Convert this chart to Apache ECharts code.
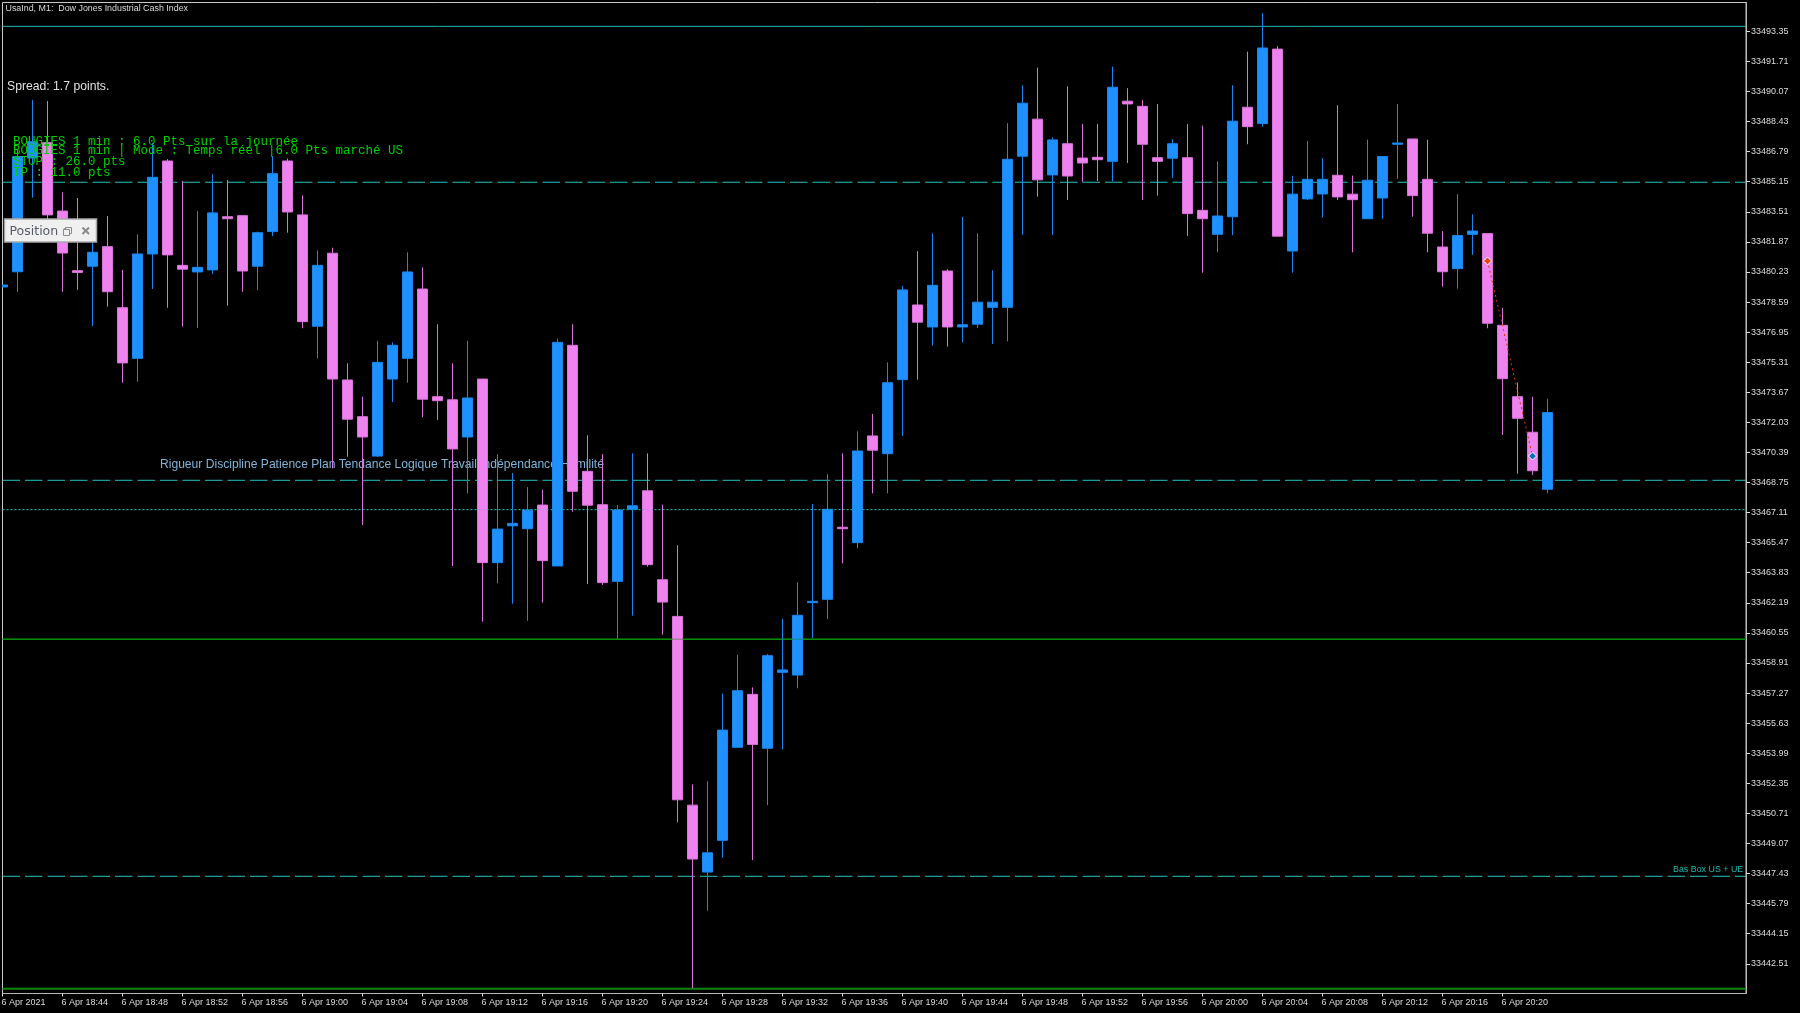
<!DOCTYPE html>
<html>
<head>
<meta charset="utf-8">
<style>html,body{margin:0;padding:0;background:#000;}#c{width:1800px;height:1013px;}</style>
<script src="https://cdn.jsdelivr.net/npm/echarts@6/dist/echarts.min.js"></script>
</head>
<body>
<div id="c"></div>
<script>
const timeLabels = ['6 Apr 2021','6 Apr 18:44','6 Apr 18:48','6 Apr 18:52','6 Apr 18:56','6 Apr 19:00','6 Apr 19:04','6 Apr 19:08','6 Apr 19:12','6 Apr 19:16','6 Apr 19:20','6 Apr 19:24','6 Apr 19:28','6 Apr 19:32','6 Apr 19:36','6 Apr 19:40','6 Apr 19:44','6 Apr 19:48','6 Apr 19:52','6 Apr 19:56','6 Apr 20:00','6 Apr 20:04','6 Apr 20:08','6 Apr 20:12','6 Apr 20:16','6 Apr 20:20'];
const priceTicks = [33493.35,33491.71,33490.07,33488.43,33486.79,33485.15,33483.51,33481.87,33480.23,33478.59,33476.95,33475.31,33473.67,33472.03,33470.39,33468.75,33467.11,33465.47,33463.83,33462.19,33460.55,33458.91,33457.27,33455.63,33453.99,33452.35,33450.71,33449.07,33447.43,33445.79,33444.15,33442.51];
const opens = [33479.41,33480.24,33486.44,33487.28,33483.55,33480.30,33480.54,33481.61,33478.28,33475.52,33481.21,33486.28,33480.59,33480.23,33480.34,33483.24,33483.30,33480.54,33482.43,33486.28,33483.34,33477.27,33481.25,33474.34,33472.34,33470.19,33474.39,33475.52,33479.30,33473.43,33473.26,33471.23,33474.39,33464.38,33466.39,33466.23,33467.52,33464.20,33476.23,33469.36,33467.54,33463.36,33467.29,33468.30,33463.45,33461.45,33451.16,33447.51,33449.24,33454.31,33457.20,33454.26,33458.40,33458.25,33462.20,33462.38,33466.31,33465.47,33471.29,33470.32,33474.36,33478.43,33477.23,33480.28,33477.23,33477.38,33478.30,33478.30,33486.54,33488.56,33485.52,33487.22,33486.44,33486.48,33486.26,33489.54,33489.26,33486.46,33486.43,33486.46,33483.59,33482.28,33483.24,33489.21,33488.32,33492.38,33481.37,33484.21,33484.48,33485.50,33484.47,33483.13,33484.26,33487.19,33487.48,33485.28,33481.59,33480.41,33482.28,33482.32,33477.32,33473.43,33471.49,33468.38];
const closes = [33479.52,33486.52,33487.33,33483.34,33481.26,33480.20,33481.30,33479.15,33475.27,33481.21,33485.39,33481.16,33480.38,33480.48,33483.45,33483.13,33480.28,33482.37,33485.59,33483.50,33477.52,33480.59,33474.39,33472.20,33471.23,33475.30,33476.23,33480.23,33473.29,33473.21,33470.58,33473.36,33464.38,33466.21,33466.52,33467.25,33464.49,33476.39,33468.27,33467.51,33463.29,33467.25,33467.48,33464.27,33462.23,33451.45,33448.22,33448.56,33455.25,33457.40,33454.47,33459.31,33458.53,33461.51,33462.27,33467.29,33466.23,33470.47,33470.51,33474.19,33479.25,33477.49,33479.50,33477.23,33477.35,33478.58,33478.58,33486.37,33489.43,33485.25,33487.43,33485.46,33486.17,33486.35,33490.30,33489.39,33487.19,33486.26,33487.22,33483.41,33483.13,33483.28,33488.45,33488.15,33492.44,33482.18,33484.47,33485.28,33485.28,33484.32,33484.17,33485.23,33486.52,33487.26,33484.39,33482.34,33480.24,33482.21,33482.46,33477.43,33474.41,33472.25,33469.39,33472.56];
const lows = [33479.41,33479.15,33484.28,33482.63,33479.15,33479.25,33477.28,33478.34,33474.19,33474.25,33479.30,33478.28,33477.25,33477.17,33480.12,33478.39,33479.15,33479.25,33482.19,33482.37,33477.16,33475.52,33469.52,33470.16,33466.43,33470.14,33473.14,33474.19,33472.31,33472.16,33464.20,33468.16,33461.16,33463.25,33462.14,33461.21,33462.20,33464.20,33467.16,33463.21,33463.16,33460.22,33461.49,33464.16,33460.45,33450.22,33441.17,33445.40,33448.29,33454.31,33448.16,33451.16,33454.20,33457.53,33460.27,33461.31,33464.34,33465.16,33468.16,33468.16,33471.30,33474.36,33476.21,33476.16,33476.39,33477.17,33476.30,33476.45,33482.25,33484.33,33482.25,33484.15,33485.14,33485.19,33485.17,33486.17,33484.15,33484.39,33485.35,33482.19,33480.19,33481.30,33482.23,33487.19,33488.15,33482.18,33480.19,33484.15,33483.19,33484.15,33481.30,33483.13,33483.13,33485.30,33483.24,33481.30,33479.43,33479.32,33481.16,33477.16,33471.34,33469.23,33469.16,33468.16];
const highs = [33479.52,33486.88,33489.61,33489.55,33484.57,33484.26,33482.08,33483.28,33480.34,33482.28,33487.26,33486.39,33485.19,33483.55,33485.56,33485.25,33483.30,33482.43,33486.55,33486.41,33484.41,33481.41,33481.55,33475.25,33473.43,33476.48,33476.39,33481.30,33480.48,33477.38,33475.25,33476.48,33474.39,33470.29,33469.27,33468.50,33468.36,33476.59,33477.38,33471.32,33470.30,33467.52,33470.34,33470.34,33467.54,33465.33,33452.29,33452.46,33457.25,33459.36,33457.58,33459.40,33461.31,33463.31,33467.58,33469.21,33470.34,33471.54,33472.49,33475.30,33479.46,33481.36,33482.34,33480.38,33483.23,33482.34,33480.32,33488.34,33490.41,33491.37,33487.57,33490.35,33488.30,33488.30,33491.42,33490.25,33489.61,33489.39,33487.46,33488.30,33488.21,33486.26,33490.41,33492.24,33494.34,33492.54,33485.48,33487.37,33486.43,33489.32,33485.48,33487.44,33486.52,33489.39,33487.48,33487.44,33482.46,33484.47,33483.37,33482.32,33478.28,33474.21,33473.43,33473.32];
const tradeBars = [99, 102];
const tradePrices = [33480.83, 33470.19];
const levelSolidTop = 33493.62;
const levelDashed = [33485.12, 33468.87, 33447.28];
const levelDotted = 33467.27;
const levelGreen = 33460.21;
const levelGreenBottom = 33441.15;
const yMax = 33494.92, yMin = 33440.89, xMax = 116.233;
const titleText = 'UsaInd, M1:  Dow Jones Industrial Cash Index';
const spreadText = 'Spread: 1.7 points.';
const infoLines = ['BOUGIES 1 min : 6.0 Pts sur la journée','BOUGIES 1 min | Mode : Temps réel |6.0 Pts marché US','STOP : 26.0 pts','TP : 11.0 pts'];
const mottoText = 'Rigueur Discipline Patience Plan Tendance Logique Travail Indépendance Humilité';
const boxText = 'Bas Box US + UE';

const BLUE='#1E90FF', PINK='#EE82EE', TEAL='#20B8B0', DASH='#24C4BE', GREEN='#078a07';
const uiFont = '"Liberation Sans", sans-serif';
const candles = opens.map((o,i)=>[i,o,closes[i],lows[i],highs[i]]);
function level(v,color,type,width,z,opacity){
  return {type:'line',data:[[0,v],[xMax,v]],symbol:'none',silent:true,z:z||1,animation:false,
    lineStyle:{color,type,width:width||1,opacity:opacity==null?1:opacity}};
}
const series=[
  {type:'candlestick',data:candles,barWidth:10,z:2,silent:true,
   itemStyle:{color:BLUE,color0:PINK,borderColor:'#1c86ee',borderColor0:'#d874d8',borderWidth:1}},
  level(levelSolidTop,TEAL,'solid'),
  ...levelDashed.map(v=>level(v,DASH,[17.5,5])),
  level(levelDotted,TEAL,[2,2]),
  level(levelGreen,GREEN,'solid',1.5),
  level(levelGreenBottom,GREEN,'solid',2),
  level(levelDotted,TEAL,[2,2],1,3,0.3),
  level(levelGreen,GREEN,'solid',1.5,3,0.35),
  {type:'line',silent:true,z:4,symbol:'diamond',symbolSize:8,
   data:[
     {value:[tradeBars[0],tradePrices[0]],itemStyle:{color:'#E8400F',borderColor:'#fff',borderWidth:1}},
     {value:[tradeBars[1],tradePrices[1]],itemStyle:{color:'#0A6EC0',borderColor:'#fff',borderWidth:1}}],
   lineStyle:{color:'#E0300A',type:[2,3],width:1}}
];
const text=(t,x,y,fill,font,z,extra)=>({type:'text',z:z,silent:true,style:Object.assign({text:t,x,y,fill,font,verticalAlign:'middle'},extra||{})});
const graphic=[
  text(mottoText,160,464.5,'#7DB4D8','12.1px '+uiFont,0),
  text(titleText,5.5,9,'#d8d8d8','8.9px '+uiFont,10),
  text(spreadText,7,86.5,'#e0e0e0','12.2px '+uiFont,10),
  text(infoLines[0],13,141.5,'#00D000','12.5px "Liberation Mono"',10),
  text(infoLines[1],13,151,'#00D000','12.5px "Liberation Mono"',10),
  text(infoLines[2],13,162,'#00D000','12.5px "Liberation Mono"',10),
  text(infoLines[3],13,173,'#00D000','12.5px "Liberation Mono"',10),
  text(boxText,1673,870,'#20B8B0','8.9px '+uiFont,10),
  {type:'rect',z:30,silent:true,shape:{x:0,y:0,width:2,height:992},style:{fill:'#000'}},
  {type:'rect',z:20,silent:true,shape:{x:4.5,y:219,width:92,height:23},style:{fill:'#f0f0f0',stroke:'#a8a8a8',lineWidth:1.5}},
  text('Position :',9.5,231.5,'#555a66','12.5px "DejaVu Sans"',21),
  {type:'rect',z:22,silent:true,shape:{x:60,y:220.5,width:3,height:20},style:{fill:'#f0f0f0'}},
  {type:'rect',z:22,silent:true,shape:{x:65.5,y:227.5,width:6,height:6},style:{fill:'none',stroke:'#8a8a8a',lineWidth:1}},
  {type:'rect',z:23,silent:true,shape:{x:63.5,y:229.5,width:6,height:6},style:{fill:'#f0f0f0',stroke:'#8a8a8a',lineWidth:1}},
  {type:'line',z:22,silent:true,shape:{x1:82.5,y1:227.5,x2:89,y2:234},style:{stroke:'#8a8a8a',lineWidth:2}},
  {type:'line',z:22,silent:true,shape:{x1:89,y1:227.5,x2:82.5,y2:234},style:{stroke:'#8a8a8a',lineWidth:2}}
];
const chart=echarts.init(document.getElementById('c'),null,{renderer:'canvas',width:1800,height:1013});
const AXIS='#b8b8b8', LABEL='#dcdcdc', tickFont='"Liberation Sans", sans-serif';
chart.setOption({
  animation:false,backgroundColor:'#000',
  grid:{left:2.5,right:54,top:2.5,bottom:19.5,show:true,borderColor:'#c8c8c8',borderWidth:1,backgroundColor:'#000',outerBoundsMode:'none'},
  xAxis:{type:'value',min:0,max:xMax,splitLine:{show:false},
    axisLine:{show:true,onZero:false,lineStyle:{color:AXIS}},
    axisTick:{show:true,inside:false,length:3,lineStyle:{color:LABEL},customValues:timeLabels.map((_,i)=>i*4)},
    axisLabel:{show:true,color:LABEL,fontSize:9,fontFamily:tickFont,align:'left',margin:5,padding:[0,0,0,-1],
      customValues:timeLabels.map((_,i)=>i*4),formatter:v=>timeLabels[Math.round(v/4)]}},
  yAxis:{type:'value',position:'right',min:yMin,max:yMax,splitLine:{show:false},
    axisLine:{show:true,onZero:false,lineStyle:{color:AXIS}},
    axisTick:{show:true,inside:false,length:4,lineStyle:{color:LABEL},customValues:priceTicks},
    axisLabel:{show:true,color:LABEL,fontSize:9,fontFamily:tickFont,margin:5,padding:[2,0,0,0],
      customValues:priceTicks,formatter:v=>v.toFixed(2)}},
  tooltip:{show:false},
  series,graphic
});
</script>
</body>
</html>
